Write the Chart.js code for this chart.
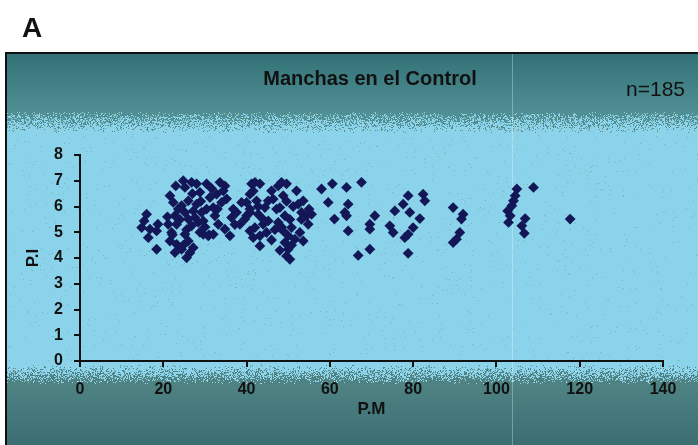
<!DOCTYPE html>
<html>
<head>
<meta charset="utf-8">
<script src="https://cdn.jsdelivr.net/npm/chart.js@4.4.1/dist/chart.umd.min.js"></script>
<style>
    html, body { margin: 0; padding: 0; background: #fff; }
    #chart_box { width: 698px; height: 445px; }
</style>
</head>
<body>
<div id="chart_box"><canvas id="manchas_chart" width="698" height="445"></canvas></div>
<script>
// P.M (x) and P.I (y), one entry per spot
const pm_values = [
    16.0, 15.4, 14.8, 16.8, 18.7, 18.4, 16.4, 18.4,
    21.6, 22.4, 23.6, 22.8, 23.2, 22.0, 21.6, 23.2, 22.8, 25.6, 24.8, 25.2, 26.8, 26.0, 25.2, 26.0, 26.8, 25.2,
    26.0, 27.2, 28.0, 28.8, 28.0, 29.2, 28.4, 29.6, 30.8, 32.0, 30.4, 31.2, 30.4, 32.4, 33.6, 34.4, 34.0, 33.2,
    34.8, 36.0, 36.4, 38.8, 39.6, 41.2, 40.8, 37.6, 38.4, 32.0, 32.8, 21.2, 24.4, 27.2, 27.6, 29.6, 24.4,
    42.0, 43.2, 40.8, 42.4, 40.8, 40.0, 42.8, 44.0, 42.0, 40.8, 43.2, 41.6, 43.2, 45.2, 44.8, 46.4, 47.2, 46.0,
    48.4, 49.6, 48.8, 48.0, 49.2, 47.6, 48.8, 50.0, 49.2, 50.0, 49.6, 50.4, 50.8, 51.6, 52.0, 52.4, 53.6, 53.2,
    54.4, 52.8, 53.6, 54.8, 55.6, 58.0, 60.6, 59.6, 64.0, 64.4, 63.6, 61.1, 64.0, 64.4, 67.6, 66.8, 44.4, 45.2, 40.0,
    70.8, 69.6, 69.6, 69.6, 78.8, 77.6, 75.6, 79.2, 81.6, 74.4, 75.2, 80.0, 78.8, 78.0, 78.8, 82.4, 82.8,
    89.6, 92.0, 91.6, 91.2, 90.4, 89.6,
    104.9, 104.5, 104.1, 103.7, 102.7, 103.3, 102.9, 106.9, 106.1, 106.7, 108.9, 117.7,
    23.0, 24.0, 25.6, 27.0, 29.0, 30.0, 31.0, 31.6, 33.0, 35.2, 34.8, 36.8, 22.2, 24.8, 26.4, 28.8,
    41.6, 42.8, 44.0, 46.8, 47.6, 48.4, 49.6, 50.4, 51.2, 50.8, 48.0, 46.0, 53.2, 37.2, 21.0, 55.0
]
const pi_values = [
    5.70, 5.44, 5.18, 5.12, 5.31, 5.05, 4.79, 4.34,
    6.42, 6.16, 5.90, 5.64, 5.31, 4.99, 4.66, 4.53, 4.21, 4.01, 7.00, 6.74, 6.94, 6.22, 5.77, 5.51, 5.25, 4.92,
    4.66, 4.40, 6.88, 6.55, 6.09, 5.77, 5.38, 4.92, 4.86, 4.92, 6.88, 6.35, 5.90, 5.64, 6.94, 6.61, 6.16, 5.31,
    5.12, 4.86, 5.57, 6.16, 5.51, 6.88, 5.77, 5.77, 5.31, 5.96, 6.48, 5.31, 6.03, 5.83, 5.57, 5.44, 4.34,
    6.94, 6.88, 6.48, 6.22, 5.90, 5.64, 5.70, 5.31, 5.18, 5.05, 4.86, 4.79, 4.47, 5.44, 4.99, 6.29, 5.90, 6.61,
    6.94, 6.88, 6.42, 5.96, 5.64, 5.38, 5.05, 4.86, 4.60, 4.34, 4.08, 3.95, 5.18, 4.73, 6.61, 6.09, 6.22, 5.77,
    5.64, 4.99, 4.66, 5.31, 5.70, 6.68, 6.88, 6.16, 6.74, 6.09, 5.77, 5.51, 5.64, 5.05, 6.94, 4.10, 5.96, 6.22, 6.16,
    5.64, 5.31, 5.12, 4.34, 6.42, 6.09, 5.83, 5.77, 5.53, 5.25, 4.99, 5.18, 4.92, 4.79, 4.18, 6.48, 6.22,
    5.96, 5.70, 5.51, 4.99, 4.73, 4.60,
    6.68, 6.42, 6.22, 6.03, 5.83, 5.64, 5.38, 5.53, 5.25, 4.96, 6.74, 5.51,
    6.80, 5.50, 5.10, 6.50, 6.20, 5.20, 4.90, 6.70, 5.90, 6.30, 6.80, 5.90, 4.90, 4.50, 4.20, 5.00,
    6.60, 6.00, 5.50, 5.10, 6.80, 5.20, 6.20, 5.50, 6.00, 4.50, 4.30, 4.70, 5.50, 5.30, 5.60, 5.90
]
const pm_ticks = [0, 20, 40, 60, 80, 100, 120, 140]
const pi_ticks = [0, 1, 2, 3, 4, 5, 6, 7, 8]

const chart_title = "Manchas en el Control"
const sample_label = "n=185"
const panel_label = "A"

const FONT = "'Liberation Sans', Arial, sans-serif"

// cheap repeatable noise for the scanned-looking speckle bands
function Speckle(x, y) {
    const s = Math.sin(x * 12.9898 + y * 78.233) * 43758.5453
    return s - Math.floor(s)
}

function Mix(a, b, t) {
    return [0, 1, 2].map(i => Math.round(a[i] + (b[i] - a[i]) * t))
}

const TEAL_TOP = [50, 114, 119]
const TEAL_MID = [80, 144, 148]
const BLUE = [139, 211, 234]
const TEAL_LOW = [78, 130, 131]
const TEAL_BOTTOM = [60, 110, 113]

const panelBackground = {
    id: "panelBackground",
    beforeDraw(chart) {
        const ctx = chart.ctx
        const w = chart.width, h = chart.height
        const left = 6, top = 53
        const img = ctx.createImageData(w, h)
        for (let y = 0; y < h; y++) {
            for (let x = 0; x < w; x++) {
                let c = [255, 255, 255]
                if (x >= left && y >= top) {
                    const n = Speckle(x, y)
                    if (y < 112) {
                        c = Mix(TEAL_TOP, TEAL_MID, (y - top) / 59)
                    } else if (y < 134) {
                        // light blue grains take over gradually
                        const p = Math.pow((y - 112) / 22, 0.8)
                        c = n < p ? BLUE : (n < p + 0.05 ? [165, 205, 195] : TEAL_MID)
                    } else if (y < 364) {
                        c = n < 0.008 ? [120, 182, 172] : BLUE
                    } else if (y < 384) {
                        const p = Math.pow((y - 364) / 20, 1.2)
                        c = n < p ? TEAL_LOW : (n < p + 0.05 ? [170, 215, 225] : BLUE)
                    } else {
                        c = Mix(TEAL_LOW, TEAL_BOTTOM, (y - 384) / 61)
                    }
                    // faint scanner streak
                    if (x === 512) c = Mix(c, [255, 255, 255], 0.3)
                }
                const k = (y * w + x) * 4
                img.data[k] = c[0]
                img.data[k + 1] = c[1]
                img.data[k + 2] = c[2]
                img.data[k + 3] = 255
            }
        }
        ctx.putImageData(img, 0, 0)

        ctx.save()
        ctx.strokeStyle = "#111"
        ctx.lineWidth = 2
        ctx.beginPath()
        ctx.moveTo(left, h)
        ctx.lineTo(left, top)
        ctx.lineTo(w, top)
        ctx.stroke()

        ctx.fillStyle = "#111"
        ctx.font = "bold 28px " + FONT
        ctx.textAlign = "left"
        ctx.textBaseline = "alphabetic"
        ctx.fillText(panel_label, 22, 37)

        ctx.font = "bold 20px " + FONT
        ctx.textAlign = "center"
        ctx.textBaseline = "middle"
        ctx.fillText(chart_title, 370, 79)

        ctx.font = "21px " + FONT
        ctx.textAlign = "right"
        ctx.fillText(sample_label, 685, 90)
        ctx.restore()
    }
}

const ctx_manchas = document.getElementById("manchas_chart").getContext("2d")
const manchas_chart = new Chart(ctx_manchas, {
    type: "scatter",
    data: {
        datasets: [{
            label: chart_title,
            data: pm_values.map((pm, i) => ({x: pm, y: pi_values[i]})),
            pointStyle: "rectRot",
            pointRadius: 5.4,
            pointBorderWidth: 0,
            backgroundColor: "#141757",
            borderColor: "#141757"
        }]
    },
    options: {
        responsive: false,
        animation: false,
        events: [],
        layout: {
            padding: {left: 0, top: 155, right: 35, bottom: 24}
        },
        plugins: {
            legend: {display: false},
            tooltip: {enabled: false}
        },
        scales: {
            x: {
                type: "linear",
                min: pm_ticks[0],
                max: pm_ticks[pm_ticks.length - 1],
                afterBuildTicks(scale) {
                    scale.ticks = pm_ticks.map(v => ({value: v}))
                },
                afterFit(scale) {
                    scale.height = 60
                },
                border: {color: "#111", width: 2},
                grid: {drawOnChartArea: false, drawTicks: true, tickLength: 6, color: "#111", lineWidth: 2},
                ticks: {color: "#111", padding: 13, maxRotation: 0, font: {family: FONT, size: 16, weight: "bold"}},
                title: {
                    display: true,
                    text: "P.M",
                    color: "#111",
                    padding: {top: 0, bottom: 1},
                    font: {family: FONT, size: 17, weight: "bold"}
                }
            },
            y: {
                type: "linear",
                min: pi_ticks[0],
                max: pi_ticks[pi_ticks.length - 1],
                afterBuildTicks(scale) {
                    scale.ticks = pi_ticks.map(v => ({value: v}))
                },
                afterFit(scale) {
                    scale.width = 80
                },
                border: {color: "#111", width: 2},
                grid: {drawOnChartArea: false, drawTicks: true, tickLength: 6, color: "#111", lineWidth: 2},
                ticks: {color: "#111", padding: 11, font: {family: FONT, size: 16, weight: "bold"}},
                title: {
                    display: true,
                    text: "P.I",
                    color: "#111",
                    padding: {top: 23, bottom: 0},
                    font: {family: FONT, size: 17, weight: "bold"}
                }
            }
        }
    },
    plugins: [panelBackground]
})
</script>
</body>
</html>
